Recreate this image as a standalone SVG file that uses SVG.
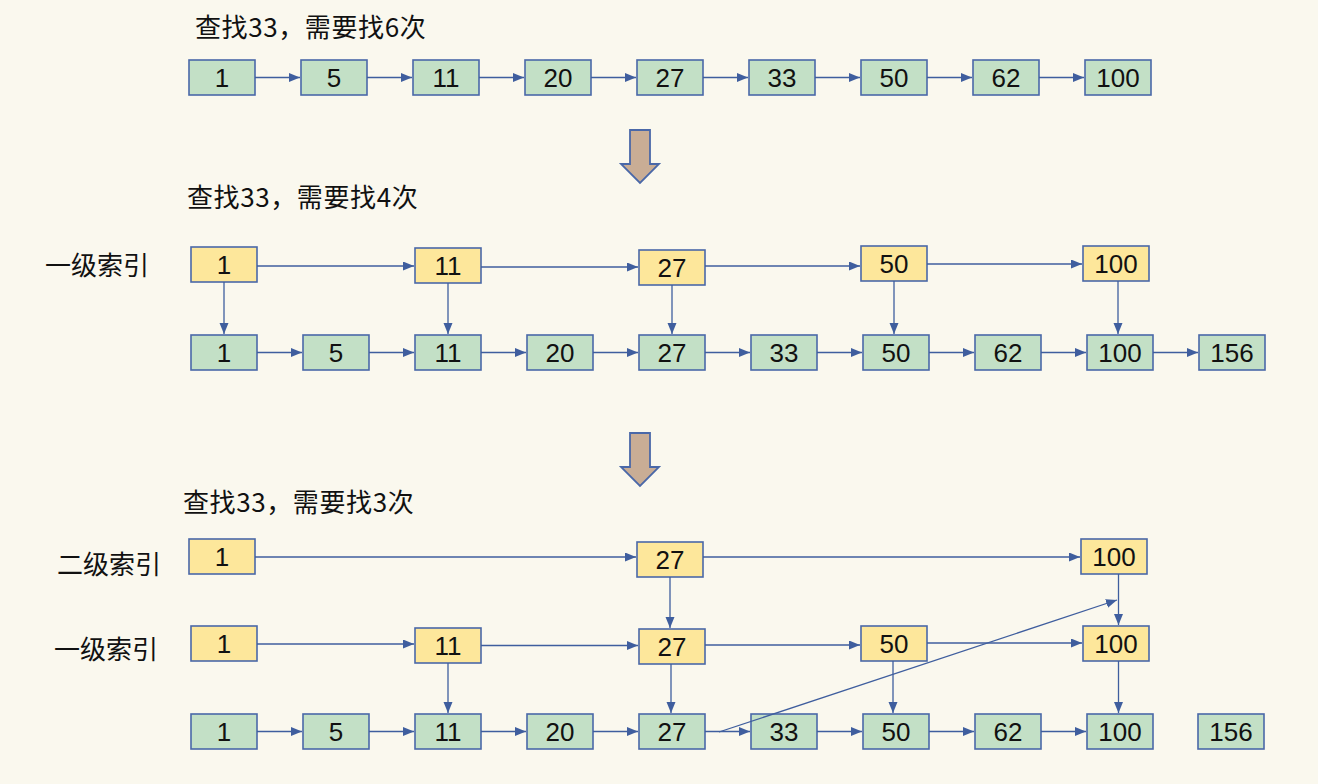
<svg xmlns="http://www.w3.org/2000/svg" width="1318" height="784" viewBox="0 0 1318 784">
<defs>
<style>
.g{fill:#c3e0c6;stroke:#4a68a8;stroke-width:1.6}
.y{fill:#fde79b;stroke:#4a68a8;stroke-width:1.6}
.n{font-family:"Liberation Sans",Arial,sans-serif;font-size:26px;fill:#111;text-anchor:middle}
.t{font-family:"Noto Sans CJK SC","Noto Sans",sans-serif;font-size:26px;fill:#111}
.tt{letter-spacing:0.6px}
.c{stroke:#3f5e9e;stroke-width:1.3;fill:none;marker-end:url(#ah)}
.big{fill:#c9ad95;stroke:#4a68a8;stroke-width:1.8}
</style>
<marker id="ah" markerUnits="userSpaceOnUse" markerWidth="12" markerHeight="10" refX="11" refY="4.5" orient="auto">
<path d="M0,0 L11,4.5 L0,9 z" fill="#3f5e9e"/>
</marker>
</defs>
<rect width="1318" height="784" fill="#faf8ee"/>

<!-- titles and labels -->
<text class="t tt" x="195" y="37">查找33，需要找6次</text>
<text class="t tt" x="187" y="207">查找33，需要找4次</text>
<text class="t tt" x="183" y="512">查找33，需要找3次</text>
<text class="t" x="45" y="275">一级索引</text>
<text class="t" x="57" y="574">二级索引</text>
<text class="t" x="54" y="659">一级索引</text>

<!-- big arrows -->
<polygon class="big" points="630,130 650,130 650,164 659,164 640,183 621,164 630,164"/>
<polygon class="big" points="630,433 650,433 650,467 659,467 640,486 621,467 630,467"/>

<!-- Section 1 nodes -->
<g id="s1-1"><rect class="g" x="189" y="60" width="66" height="35"/><text class="n" x="222" y="87">1</text></g>
<g id="s1-5"><rect class="g" x="301" y="60" width="66" height="35"/><text class="n" x="334" y="87">5</text></g>
<g id="s1-11"><rect class="g" x="413" y="60" width="66" height="35"/><text class="n" x="446" y="87">11</text></g>
<g id="s1-20"><rect class="g" x="525" y="60" width="66" height="35"/><text class="n" x="558" y="87">20</text></g>
<g id="s1-27"><rect class="g" x="637" y="60" width="66" height="35"/><text class="n" x="670" y="87">27</text></g>
<g id="s1-33"><rect class="g" x="749" y="60" width="66" height="35"/><text class="n" x="782" y="87">33</text></g>
<g id="s1-50"><rect class="g" x="861" y="60" width="66" height="35"/><text class="n" x="894" y="87">50</text></g>
<g id="s1-62"><rect class="g" x="973" y="60" width="66" height="35"/><text class="n" x="1006" y="87">62</text></g>
<g id="s1-100"><rect class="g" x="1085" y="60" width="66" height="35"/><text class="n" x="1118" y="87">100</text></g>

<!-- Section 2 index nodes -->
<g id="s2-i1"><rect class="y" x="191" y="247" width="66" height="35"/><text class="n" x="224" y="274">1</text></g>
<g id="s2-i11"><rect class="y" x="415" y="248" width="66" height="35"/><text class="n" x="448" y="275">11</text></g>
<g id="s2-i27"><rect class="y" x="639" y="250" width="66" height="35"/><text class="n" x="672" y="277">27</text></g>
<g id="s2-i50"><rect class="y" x="861" y="246" width="66" height="35"/><text class="n" x="894" y="273">50</text></g>
<g id="s2-i100"><rect class="y" x="1083" y="246" width="66" height="35"/><text class="n" x="1116" y="273">100</text></g>

<!-- Section 2 base nodes -->
<g id="s2-1"><rect class="g" x="191" y="335" width="66" height="35"/><text class="n" x="224" y="362">1</text></g>
<g id="s2-5"><rect class="g" x="303" y="335" width="66" height="35"/><text class="n" x="336" y="362">5</text></g>
<g id="s2-11"><rect class="g" x="415" y="335" width="66" height="35"/><text class="n" x="448" y="362">11</text></g>
<g id="s2-20"><rect class="g" x="527" y="335" width="66" height="35"/><text class="n" x="560" y="362">20</text></g>
<g id="s2-27"><rect class="g" x="639" y="335" width="66" height="35"/><text class="n" x="672" y="362">27</text></g>
<g id="s2-33"><rect class="g" x="751" y="335" width="66" height="35"/><text class="n" x="784" y="362">33</text></g>
<g id="s2-50"><rect class="g" x="863" y="335" width="66" height="35"/><text class="n" x="896" y="362">50</text></g>
<g id="s2-62"><rect class="g" x="975" y="335" width="66" height="35"/><text class="n" x="1008" y="362">62</text></g>
<g id="s2-100"><rect class="g" x="1087" y="335" width="66" height="35"/><text class="n" x="1120" y="362">100</text></g>
<g id="s2-156"><rect class="g" x="1199" y="335" width="66" height="35"/><text class="n" x="1232" y="362">156</text></g>

<!-- Section 3 level-2 nodes -->
<g id="s3-l2-1"><rect class="y" x="189" y="539" width="66" height="35"/><text class="n" x="222" y="566">1</text></g>
<g id="s3-l2-27"><rect class="y" x="637" y="542" width="66" height="35"/><text class="n" x="670" y="569">27</text></g>
<g id="s3-l2-100"><rect class="y" x="1081" y="539" width="66" height="35"/><text class="n" x="1114" y="566">100</text></g>

<!-- Section 3 level-1 nodes -->
<g id="s3-l1-1"><rect class="y" x="191" y="626" width="66" height="35"/><text class="n" x="224" y="653">1</text></g>
<g id="s3-l1-11"><rect class="y" x="415" y="628" width="66" height="35"/><text class="n" x="448" y="655">11</text></g>
<g id="s3-l1-27"><rect class="y" x="639" y="629" width="66" height="35"/><text class="n" x="672" y="656">27</text></g>
<g id="s3-l1-50"><rect class="y" x="861" y="626" width="66" height="35"/><text class="n" x="894" y="653">50</text></g>
<g id="s3-l1-100"><rect class="y" x="1083" y="626" width="66" height="35"/><text class="n" x="1116" y="653">100</text></g>

<!-- Section 3 base nodes -->
<g id="s3-1"><rect class="g" x="191" y="714" width="66" height="35"/><text class="n" x="224" y="741">1</text></g>
<g id="s3-5"><rect class="g" x="303" y="714" width="66" height="35"/><text class="n" x="336" y="741">5</text></g>
<g id="s3-11"><rect class="g" x="415" y="714" width="66" height="35"/><text class="n" x="448" y="741">11</text></g>
<g id="s3-20"><rect class="g" x="527" y="714" width="66" height="35"/><text class="n" x="560" y="741">20</text></g>
<g id="s3-27"><rect class="g" x="639" y="714" width="66" height="35"/><text class="n" x="672" y="741">27</text></g>
<g id="s3-33"><rect class="g" x="751" y="714" width="66" height="35"/><text class="n" x="784" y="741">33</text></g>
<g id="s3-50"><rect class="g" x="863" y="714" width="66" height="35"/><text class="n" x="896" y="741">50</text></g>
<g id="s3-62"><rect class="g" x="975" y="714" width="66" height="35"/><text class="n" x="1008" y="741">62</text></g>
<g id="s3-100"><rect class="g" x="1087" y="714" width="66" height="35"/><text class="n" x="1120" y="741">100</text></g>
<g id="s3-156"><rect class="g" x="1198" y="714" width="66" height="35"/><text class="n" x="1231" y="741">156</text></g>

<!-- connectors -->
<g id="connectors">
<!-- section 1 -->
<line class="c" x1="255" y1="77.5" x2="300" y2="77.5"/>
<line class="c" x1="367" y1="77.5" x2="412" y2="77.5"/>
<line class="c" x1="479" y1="77.5" x2="524" y2="77.5"/>
<line class="c" x1="591" y1="77.5" x2="636" y2="77.5"/>
<line class="c" x1="703" y1="77.5" x2="748" y2="77.5"/>
<line class="c" x1="815" y1="77.5" x2="860" y2="77.5"/>
<line class="c" x1="927" y1="77.5" x2="972" y2="77.5"/>
<line class="c" x1="1039" y1="77.5" x2="1084" y2="77.5"/>
<!-- section 2 index -->
<line class="c" x1="257" y1="266" x2="414" y2="266"/>
<line class="c" x1="481" y1="267" x2="638" y2="267"/>
<line class="c" x1="705" y1="266" x2="860" y2="266"/>
<line class="c" x1="927" y1="264" x2="1082" y2="264"/>
<line class="c" x1="224" y1="282" x2="224" y2="334"/>
<line class="c" x1="448" y1="283" x2="448" y2="334"/>
<line class="c" x1="672" y1="285" x2="672" y2="334"/>
<line class="c" x1="894" y1="281" x2="894" y2="334"/>
<line class="c" x1="1118" y1="281" x2="1118" y2="334"/>
<!-- section 2 base -->
<line class="c" x1="257" y1="352.5" x2="302" y2="352.5"/>
<line class="c" x1="369" y1="352.5" x2="414" y2="352.5"/>
<line class="c" x1="481" y1="352.5" x2="526" y2="352.5"/>
<line class="c" x1="593" y1="352.5" x2="638" y2="352.5"/>
<line class="c" x1="705" y1="352.5" x2="750" y2="352.5"/>
<line class="c" x1="817" y1="352.5" x2="862" y2="352.5"/>
<line class="c" x1="929" y1="352.5" x2="974" y2="352.5"/>
<line class="c" x1="1041" y1="352.5" x2="1086" y2="352.5"/>
<line class="c" x1="1153" y1="352.5" x2="1198" y2="352.5"/>
<!-- section 3 level 2 -->
<line class="c" x1="255" y1="557" x2="636" y2="557"/>
<line class="c" x1="703" y1="557" x2="1080" y2="557"/>
<line class="c" x1="670" y1="577" x2="670" y2="628"/>
<line class="c" x1="1118.5" y1="574" x2="1118.5" y2="625"/>
<!-- section 3 level 1 -->
<line class="c" x1="257" y1="644" x2="414" y2="644"/>
<line class="c" x1="481" y1="645.5" x2="638" y2="645.5"/>
<line class="c" x1="705" y1="645" x2="860" y2="645"/>
<line class="c" x1="927" y1="643" x2="1082" y2="643"/>
<line class="c" x1="448" y1="663" x2="448" y2="713"/>
<line class="c" x1="671" y1="664" x2="671" y2="713"/>
<line class="c" x1="893" y1="661" x2="893" y2="713"/>
<line class="c" x1="1118.5" y1="661" x2="1118.5" y2="713"/>
<!-- section 3 base -->
<line class="c" x1="257" y1="731.5" x2="302" y2="731.5"/>
<line class="c" x1="369" y1="731.5" x2="414" y2="731.5"/>
<line class="c" x1="481" y1="731.5" x2="526" y2="731.5"/>
<line class="c" x1="593" y1="731.5" x2="638" y2="731.5"/>
<line class="c" x1="705" y1="731.5" x2="750" y2="731.5"/>
<line class="c" x1="817" y1="731.5" x2="862" y2="731.5"/>
<line class="c" x1="929" y1="731.5" x2="974" y2="731.5"/>
<line class="c" x1="1041" y1="731.5" x2="1086" y2="731.5"/>
<!-- diagonal jump -->
<line class="c" x1="719" y1="732" x2="1117" y2="600"/>
</g>
</svg>
